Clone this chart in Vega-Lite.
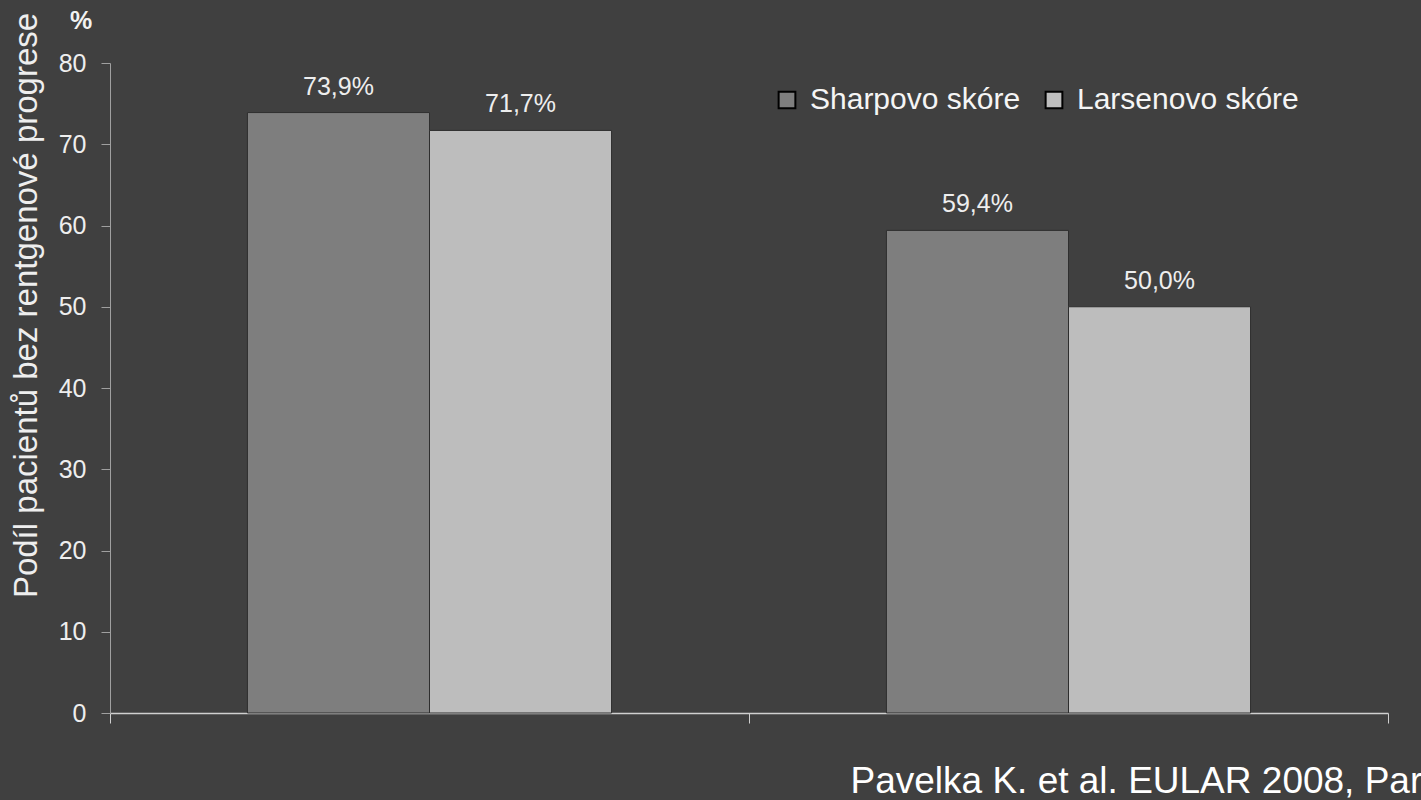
{
  "$schema": "https://vega.github.io/schema/vega-lite/v6.json",
  "width": 1278,
  "height": 650,
  "autosize": {"type": "none"},
  "padding": {"left": 110, "top": 63, "right": 33, "bottom": 87},
  "background": "#404040",
  "config": {
    "view": {"stroke": null},
    "font": "Liberation Sans"
  },
  "title": {
    "text": "%",
    "anchor": "start",
    "frame": "group",
    "dx": -40,
    "dy": 22,
    "offset": 0,
    "fontSize": 25,
    "fontWeight": "bold",
    "color": "#f2f2f2",
    "font": "Liberation Sans"
  },
  "data": {
    "values": [
      {"group": "1", "score": "Sharpovo skóre", "value": 73.9, "label": "73,9%"},
      {"group": "1", "score": "Larsenovo skóre", "value": 71.7, "label": "71,7%"},
      {"group": "2", "score": "Sharpovo skóre", "value": 59.4, "label": "59,4%"},
      {"group": "2", "score": "Larsenovo skóre", "value": 50.0, "label": "50,0%"}
    ]
  },
  "encoding": {
    "x": {
      "field": "group",
      "type": "nominal",
      "scale": {"paddingInner": 0, "paddingOuter": 0},
      "axis": {
        "labels": false,
        "tickBand": "extent",
        "tickSize": 10,
        "tickColor": "#d0d0d0",
        "domainColor": "#d0d0d0",
        "domainWidth": 1.5,
        "title": "Pavelka K. et al. EULAR 2008, Paris",
        "titleFontSize": 37,
        "titleFontWeight": "normal",
        "titleColor": "#ffffff",
        "titleX": 740,
        "titleY": 79,
        "titleAlign": "left",
        "titleBaseline": "alphabetic",
        "titleLimit": 2000
      }
    },
    "xOffset": {
      "field": "score",
      "sort": ["Sharpovo skóre", "Larsenovo skóre"],
      "scale": {"paddingInner": 0, "paddingOuter": 0.755}
    },
    "y": {
      "field": "value",
      "type": "quantitative",
      "scale": {"domain": [0, 80]},
      "axis": {
        "values": [0, 10, 20, 30, 40, 50, 60, 70, 80],
        "grid": false,
        "labelFontSize": 25,
        "labelColor": "#eeeeee",
        "labelPadding": 15,
        "tickSize": 9,
        "tickColor": "#a0a0a0",
        "domainColor": "#a0a0a0",
        "title": "Podíl pacientů bez rentgenové progrese",
        "titleFontSize": 33,
        "titleFontWeight": "normal",
        "titleColor": "#eeeeee",
        "titleAngle": -90,
        "titleX": -74,
        "titleY": 242,
        "titleAlign": "center",
        "titleBaseline": "alphabetic",
        "titleLimit": 2000
      }
    }
  },
  "layer": [
    {
      "mark": {"type": "bar", "stroke": "#2e2e2e", "strokeWidth": 1},
      "encoding": {
        "color": {
          "field": "score",
          "type": "nominal",
          "sort": ["Sharpovo skóre", "Larsenovo skóre"],
          "scale": {"domain": ["Sharpovo skóre", "Larsenovo skóre"], "range": ["#7e7e7e", "#bdbdbd"]},
          "legend": {
            "title": null,
            "orient": "none",
            "legendX": 662,
            "legendY": 22,
            "direction": "horizontal",
            "symbolType": "square",
            "symbolSize": 280,
            "symbolStrokeColor": "#000000",
            "symbolStrokeWidth": 2,
            "symbolOpacity": 1,
            "labelFontSize": 30,
            "labelColor": "#f5f5f5",
            "labelOffset": 8,
            "labelLimit": 500,
            "columnPadding": 18
          }
        }
      }
    },
    {
      "mark": {"type": "text", "dy": -18, "fontSize": 25, "color": "#eeeeee", "baseline": "alphabetic"},
      "encoding": {"text": {"field": "label"}}
    }
  ]
}
